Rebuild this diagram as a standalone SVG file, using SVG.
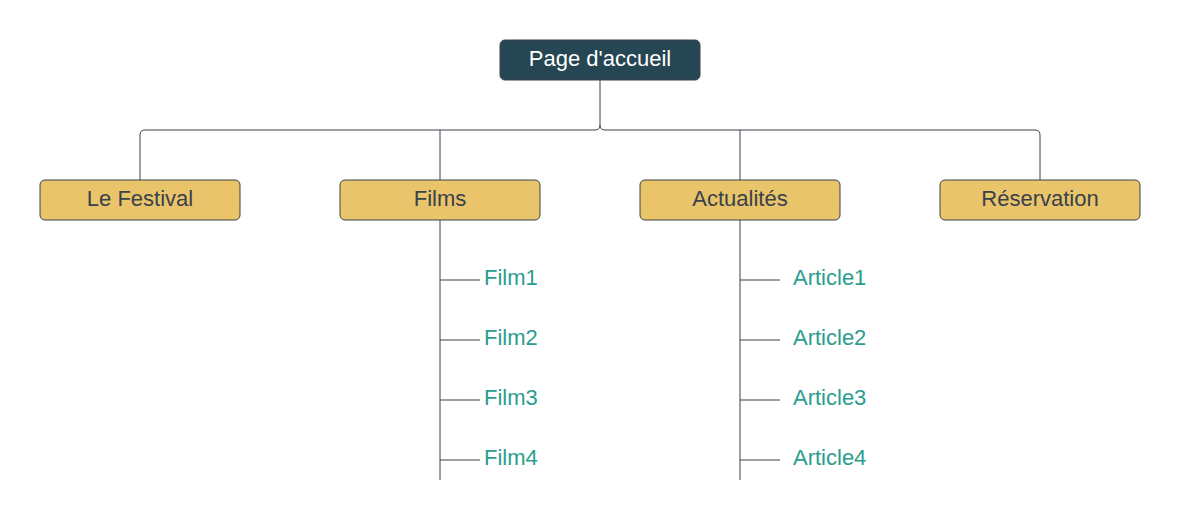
<svg xmlns="http://www.w3.org/2000/svg" width="1180" height="520" viewBox="0 0 1180 520">
<style>
.root{fill:#264653;stroke:#3a414a;stroke-width:1}
.node{fill:#e9c46a;stroke:#3a414a;stroke-width:1}
.lbl{font-family:"Liberation Sans",Arial,sans-serif;font-size:22px;text-anchor:middle;fill:#3a414a}
.rlbl{font-family:"Liberation Sans",Arial,sans-serif;font-size:22px;text-anchor:middle;fill:#ffffff}
.leaf{font-family:"Liberation Sans",Arial,sans-serif;font-size:22px;fill:#2a9d8f}
.c{fill:none;stroke:#3a414a;stroke-width:1}
</style>
<rect width="1180" height="520" fill="#ffffff"/>
<g id="connectors">
<path class="c" d="M600,80 V125 Q600,130 595,130 H145 Q140,130 140,135 V180"/>
<path class="c" d="M600,125 Q600,130 605,130 H1035 Q1040,130 1040,135 V180"/>
<path class="c" d="M440,130 V180"/>
<path class="c" d="M740,130 V180"/>
<path class="c" d="M440,220 V480 M440,280 H480 M440,340 H480 M440,400 H480 M440,460 H480"/>
<path class="c" d="M740,220 V480 M740,280 H780 M740,340 H780 M740,400 H780 M740,460 H780"/>
</g>
<g id="root"><rect class="root" x="500" y="40" width="200" height="40" rx="5"/><text class="rlbl" x="600" y="66">Page d'accueil</text></g>
<g id="festival"><rect class="node" x="40" y="180" width="200" height="40" rx="5"/><text class="lbl" x="140" y="205.5">Le Festival</text></g>
<g id="films"><rect class="node" x="340" y="180" width="200" height="40" rx="5"/><text class="lbl" x="440" y="205.5">Films</text></g>
<g id="actualites"><rect class="node" x="640" y="180" width="200" height="40" rx="5"/><text class="lbl" x="740" y="205.5">Actualités</text></g>
<g id="reservation"><rect class="node" x="940" y="180" width="200" height="40" rx="5"/><text class="lbl" x="1040" y="205.5">Réservation</text></g>
<g id="film1"><text class="leaf" x="484" y="284.5">Film1</text></g>
<g id="film2"><text class="leaf" x="484" y="344.5">Film2</text></g>
<g id="film3"><text class="leaf" x="484" y="404.5">Film3</text></g>
<g id="film4"><text class="leaf" x="484" y="464.5">Film4</text></g>
<g id="article1"><text class="leaf" x="793" y="284.5">Article1</text></g>
<g id="article2"><text class="leaf" x="793" y="344.5">Article2</text></g>
<g id="article3"><text class="leaf" x="793" y="404.5">Article3</text></g>
<g id="article4"><text class="leaf" x="793" y="464.5">Article4</text></g>
</svg>
